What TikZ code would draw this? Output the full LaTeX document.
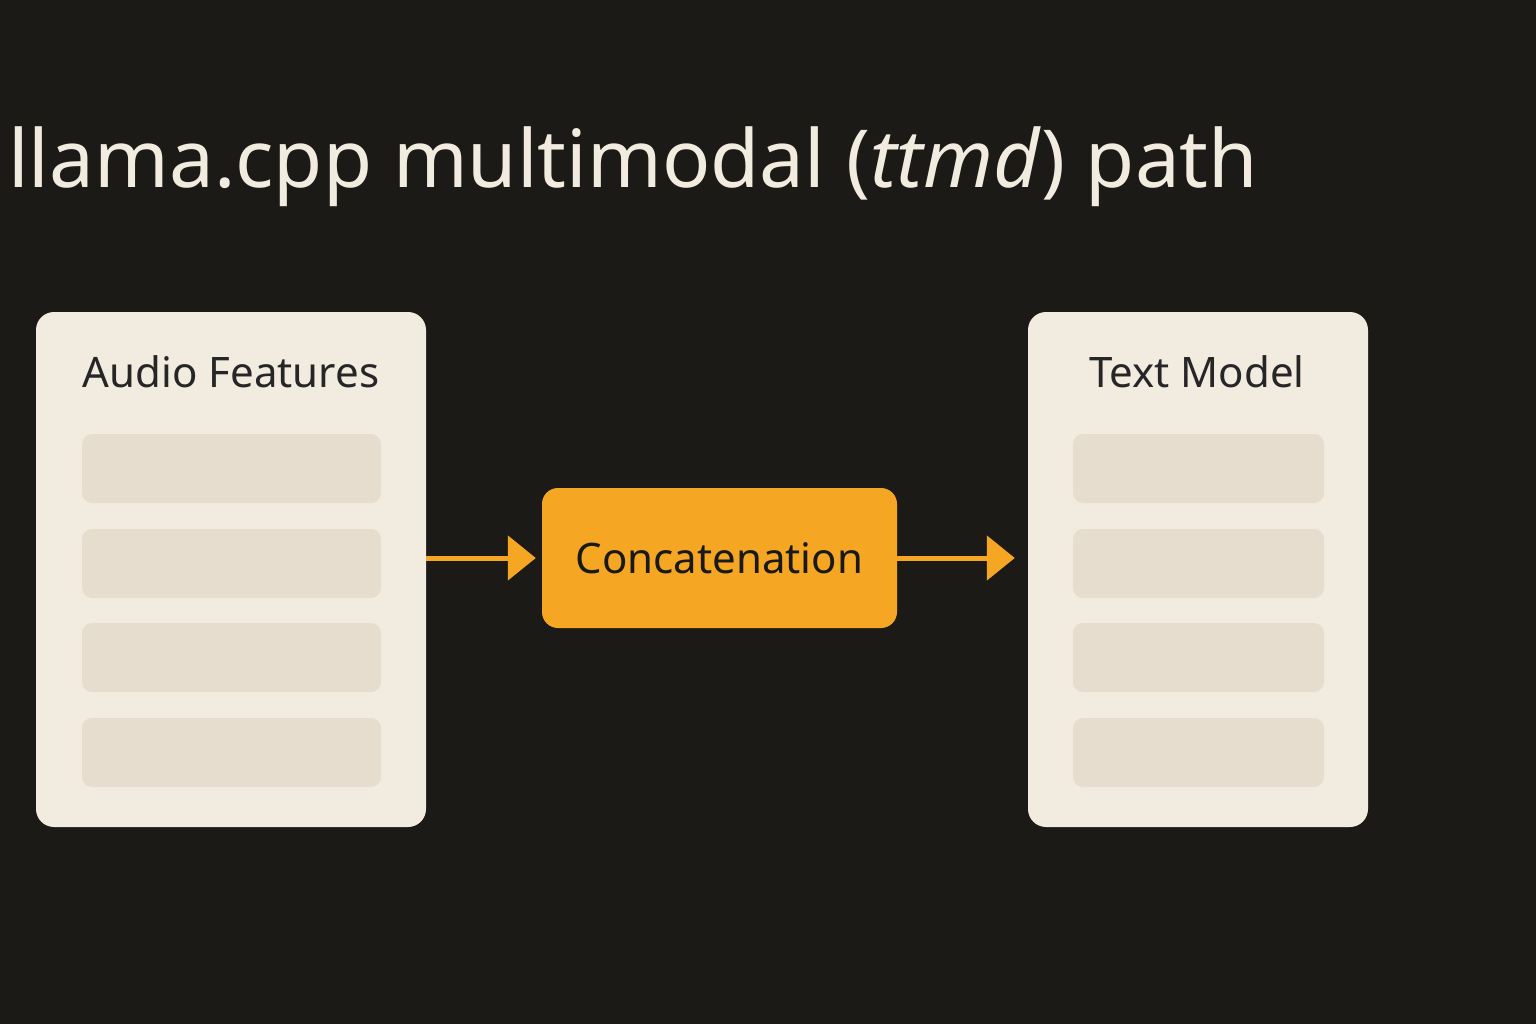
\documentclass[tikz,border=0pt]{standalone}
\usepackage{fontspec}
\setmainfont{Noto Sans}
\usetikzlibrary{arrows.meta}
\definecolor{bg}{HTML}{1C1A17}
\definecolor{panel}{HTML}{F2EBE0}
\definecolor{bar}{HTML}{E6DDCF}
\definecolor{org}{HTML}{F5A623}
\definecolor{ttl}{HTML}{F2EBE0}
\begin{document}
\begin{tikzpicture}[x=1pt,y=-1pt,
  panel/.style={fill=panel,rounded corners=18pt,draw=none},
  bar/.style={fill=bar,rounded corners=10pt,draw=none},
  lbl/.style={font=\fontsize{42}{50}\selectfont,text=black!85},
  arr/.style={draw=org,line width=5pt,-{Triangle[length=28pt,width=44pt]}}]
\fill[bg] (0,0) rectangle (1536,1024);
\useasboundingbox (0,0) rectangle (1536,1024);
\node[anchor=base west,text=ttl,font=\fontsize{80}{90}\selectfont,inner sep=0] (title) at (8,188) {llama.cpp multimodal (\textit{ttmd}) path};
% left panel
\node[panel,minimum width=390pt,minimum height=515pt] (L) at (231,569.5) {};
\node[lbl] (Lt) at (231,372) {Audio Features};
\foreach \y/\n in {468.5/1,563.5/2,657.5/3,752.5/4}
  \node[bar,minimum width=299pt,minimum height=69pt] (lb\n) at (231.5,\y) {};
% right panel
\node[panel,minimum width=340pt,minimum height=515pt] (R) at (1198,569.5) {};
\node[lbl] (Rt) at (1197,372) {Text Model};
\foreach \y/\n in {468.5/1,563.5/2,657.5/3,752.5/4}
  \node[bar,minimum width=251pt,minimum height=69pt] (rb\n) at (1198.5,\y) {};
% concat
\node[fill=org,rounded corners=16pt,minimum width=355pt,minimum height=140pt,lbl,text=black!90] (C) at (719.5,558) {Concatenation};
\draw[arr] (L.east |- C.west) -- ([xshift=-6pt]C.west);
\draw[arr] (C.east) -- ([xshift=-13pt]R.west |- C.east);
\end{tikzpicture}
\end{document}
